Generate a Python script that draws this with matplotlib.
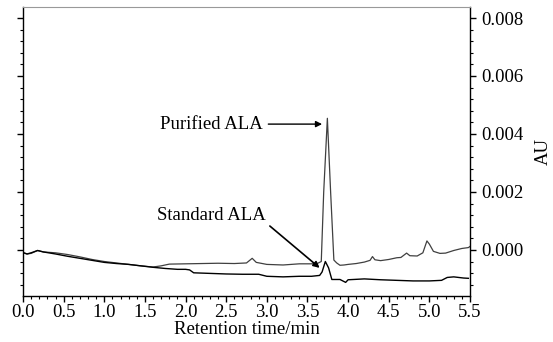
import matplotlib
matplotlib.use("Agg")
import matplotlib.pyplot as plt
from matplotlib.ticker import MultipleLocator, FormatStrFormatter

# Purified ALA trace (time in min, absorbance in AU)
purified_t = [0.00, 0.05, 0.10, 0.18, 0.25, 0.40, 0.55, 0.70, 0.85, 1.00, 1.15, 1.30,
              1.45, 1.60, 1.70, 1.80, 2.00, 2.20, 2.40, 2.60, 2.75, 2.82, 2.87, 3.00,
              3.20, 3.40, 3.55, 3.62, 3.67, 3.70, 3.745, 3.785, 3.825, 3.86,
              3.90, 3.95, 4.00, 4.10, 4.20, 4.27, 4.30, 4.33, 4.40, 4.50, 4.60, 4.65,
              4.72, 4.76, 4.85, 4.92, 4.97, 5.00, 5.05, 5.13, 5.20, 5.30, 5.40, 5.48, 5.50]
purified_au = [-0.00010, -0.00014, -0.00012, -0.00002, -0.00007, -0.00010, -0.00016,
               -0.00024, -0.00033, -0.00040, -0.00045, -0.00050, -0.00055, -0.00059,
               -0.00055, -0.00049, -0.00048, -0.00047, -0.00046, -0.00047, -0.00045,
               -0.00029, -0.00043, -0.00050, -0.00052, -0.00048, -0.00048, -0.00047,
               -0.00040, 0.00200, 0.00454, 0.00200, -0.00035,
               -0.00045, -0.00053, -0.00052, -0.00050, -0.00047, -0.00042, -0.00036,
               -0.00023, -0.00034, -0.00037, -0.00033, -0.00027, -0.00026, -0.00011,
               -0.00020, -0.00021, -0.00010, 0.00031, 0.00020, -0.00005, -0.00012,
               -0.00011, -0.00002, 0.00005, 0.00008, 0.00012]

# Standard ALA trace
standard_t = [0.00, 0.05, 0.10, 0.18, 0.25, 0.40, 0.55, 0.70, 0.85, 1.00, 1.15, 1.30,
              1.45, 1.60, 1.75, 1.90, 2.00, 2.05, 2.10, 2.30, 2.50, 2.70, 2.90, 3.00,
              3.20, 3.40, 3.55, 3.65, 3.68, 3.72, 3.76, 3.80, 3.90, 3.97, 4.00, 4.20,
              4.40, 4.60, 4.80, 5.00, 5.15, 5.22, 5.30, 5.42, 5.48]
standard_au = [-0.00009, -0.00014, -0.00010, -0.00002, -0.00007, -0.00014, -0.00022,
               -0.00029, -0.00036, -0.00043, -0.00047, -0.00050, -0.00055, -0.00060,
               -0.00064, -0.00067, -0.00067, -0.00069, -0.00079, -0.00081, -0.00083,
               -0.00084, -0.00084, -0.00091, -0.00093, -0.00091, -0.00091, -0.00088,
               -0.00076, -0.00040, -0.00062, -0.00102, -0.00102, -0.00112, -0.00103,
               -0.00100, -0.00103, -0.00105, -0.00107, -0.00107, -0.00105, -0.00095,
               -0.00093, -0.00097, -0.00098]

x_label = "Retention time/min"
y_label = "AU"
purified_label = "Purified ALA"
standard_label = "Standard ALA"

plt.rcParams['font.family'] = ['Liberation Serif', 'DejaVu Serif']

fig = plt.figure(figsize=(5.53, 3.42), dpi=100)
ax = fig.add_axes([23/553, 1-296/342, (470-23)/553, (296-7)/342])

ax.plot(purified_t, purified_au, color='#404040', lw=0.9)
ax.plot(standard_t, standard_au, color='black', lw=1.0)

ax.set_xlim(0, 5.5)
ax.set_ylim(-0.00159, 0.00838)

ax.xaxis.set_major_locator(MultipleLocator(0.5))
ax.xaxis.set_minor_locator(MultipleLocator(0.1))
ax.xaxis.set_major_formatter(FormatStrFormatter('%.1f'))
ax.yaxis.set_major_locator(MultipleLocator(0.002))
ax.yaxis.set_minor_locator(MultipleLocator(0.0004))
ax.yaxis.set_major_formatter(FormatStrFormatter('%.3f'))

ax.tick_params(axis='both', which='both', direction='out', labelsize=13.5, pad=2)
ax.tick_params(axis='y', which='both', left=True, right=True, labelleft=False,
               labelright=True, pad=4)
ax.tick_params(axis='both', which='major', length=4, width=1)
ax.tick_params(axis='both', which='minor', length=2, width=0.8)
ax.tick_params(axis='x', which='both', top=False)

ax.spines['top'].set_color('#999999')
for s in ['left', 'right', 'bottom']:
    ax.spines[s].set_linewidth(1.0)

ax.set_xlabel(x_label, fontsize=13.5, labelpad=0)
ax.yaxis.set_label_position('right')
ax.set_ylabel(y_label, fontsize=13.5, labelpad=8)

ax.annotate(purified_label, xy=(3.68, 0.00434), xytext=(2.95, 0.00434),
            ha='right', va='center', fontsize=13.5,
            arrowprops=dict(arrowstyle='-|>', color='black', lw=1.0,
                            mutation_scale=9, shrinkA=2, shrinkB=0))
ax.annotate(standard_label, xy=(3.65, -0.00062), xytext=(2.99, 0.00117),
            ha='right', va='center', fontsize=13.5,
            arrowprops=dict(arrowstyle='-|>', color='black', lw=1.2,
                            mutation_scale=9, shrinkA=1, shrinkB=0,
                            relpos=(1.0, 0.1)))

fig.savefig('out.png', dpi=100)
